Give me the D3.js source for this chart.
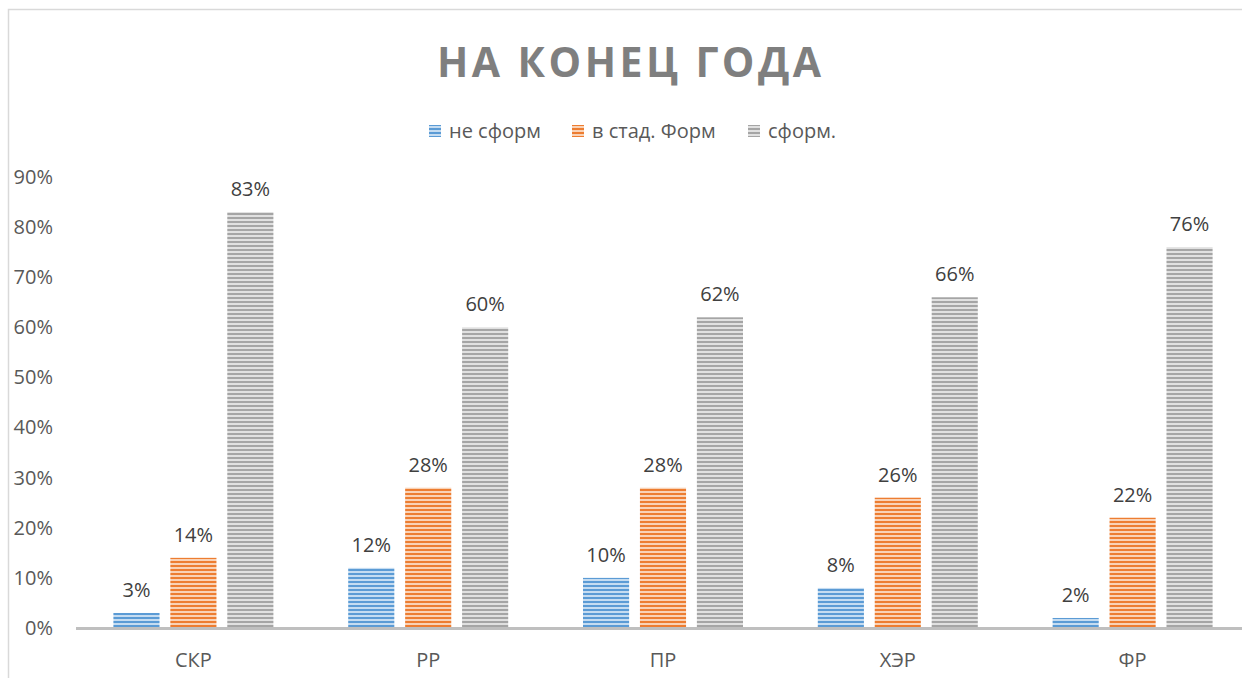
<!DOCTYPE html>
<html>
<head>
<meta charset="utf-8">
<script src="https://cdn.jsdelivr.net/npm/d3@7"></script>
<style>
  body { margin: 0; background: #fff; }
  svg { display: block; font-family: "Open Sans", "Noto Sans", sans-serif; }
</style>
</head>
<body>
<div class="chart"></div>
<script>
// Chart data
const categories = ["СКР", "РР", "ПР", "ХЭР", "ФР"];
const seriesNames = ["не сформ", "в стад. Форм", "сформ."];
const notFormed = [3, 12, 10, 8, 2];
const inProgress = [14, 28, 28, 26, 22];
const formed = [83, 60, 62, 66, 76];
const yTicks = [0, 10, 20, 30, 40, 50, 60, 70, 80, 90];

// Colours: main stripe + light stripe for each series
const colors = [["#5b9bd5", "#c5dcf1"], ["#ed7d31", "#f9d2b6"], ["#a5a5a5", "#e0e0e0"]];

const width = 1242;
const height = 678;
const margin = {top: 177, right: -8, bottom: 50, left: 76};
const innerWidth = width - margin.left - margin.right;
const innerHeight = height - margin.top - margin.bottom;

const series = [notFormed, inProgress, formed];
const data = categories.map((c, i) => ({
  cat: c,
  values: series.map((s, k) => ({key: k, value: s[i]}))
}));

const svg = d3.select(".chart")
  .append("svg")
    .attr("width", width)
    .attr("height", height);

// Striped fill patterns, like Excel's horizontal-line pattern
const defs = svg.append("defs");
colors.forEach((c, k) => {
  const p = defs.append("pattern")
    .attr("id", "stripe" + k)
    .attr("patternUnits", "userSpaceOnUse")
    .attr("width", 8)
    .attr("height", 4);
  p.append("rect").attr("width", 8).attr("height", 4).attr("fill", c[1]);
  p.append("rect").attr("width", 8).attr("height", 2).attr("fill", c[0]);
});

// Outer chart border (cropped at right and bottom)
svg.append("path")
  .attr("d", `M8.5,${height} V9.5 H${width}`)
  .attr("fill", "none")
  .attr("stroke", "#d9d9d9")
  .attr("stroke-width", 1.5);

// Title
svg.append("text")
  .attr("x", 629)
  .attr("y", 77)
  .attr("text-anchor", "middle")
  .attr("fill", "#7f7f7f")
  .attr("font-size", 41)
  .attr("font-weight", "bold")
  .attr("textLength", 384)
  .attr("lengthAdjust", "spacing")
  .text("НА КОНЕЦ ГОДА");

// Legend
const legendX = [429, 572, 748];
const legend = svg.append("g");
seriesNames.forEach((name, k) => {
  legend.append("rect")
    .attr("x", legendX[k])
    .attr("y", 125)
    .attr("width", 12)
    .attr("height", 12)
    .attr("fill", `url(#stripe${k})`);
  legend.append("text")
    .attr("x", legendX[k] + 20)
    .attr("y", 138)
    .attr("fill", "#595959")
    .attr("font-size", 20)
    .text(name);
});

const g = svg.append("g")
  .attr("transform", `translate(${margin.left}, ${margin.top})`);

// Scales
const x = d3.scaleBand()
  .domain(categories)
  .range([0, innerWidth]);

const x1 = d3.scaleBand()
  .domain([0, 1, 2])
  .range([x.bandwidth() / 2 - 80, x.bandwidth() / 2 + 80])
  .paddingInner(0.19);

const y = d3.scaleLinear()
  .domain([0, 90])
  .range([innerHeight, 0]);

// Y-axis tick labels (no axis line)
g.append("g")
  .attr("font-size", 20)
  .attr("font-family", "'Open Sans', sans-serif")
  .call(d3.axisLeft(y).tickValues(yTicks).tickFormat(d => d + "%").tickSize(0).tickPadding(23))
  .call(a => a.select(".domain").remove())
  .call(a => a.attr("font-size", 20).attr("font-family", "'Open Sans', sans-serif"))
  .selectAll("text")
    .attr("fill", "#595959");

// Bars
const groups = g.selectAll(".grp")
  .data(data)
  .enter()
  .append("g")
    .attr("class", "grp")
    .attr("transform", d => `translate(${x(d.cat)}, 0)`);

groups.selectAll("rect")
  .data(d => d.values)
  .enter()
  .append("rect")
    .attr("x", d => x1(d.key))
    .attr("y", d => y(d.value))
    .attr("width", x1.bandwidth())
    .attr("height", d => innerHeight - y(d.value))
    .attr("fill", d => `url(#stripe${d.key})`);

// Data labels
groups.selectAll(".lbl")
  .data(d => d.values)
  .enter()
  .append("text")
    .attr("class", "lbl")
    .attr("x", d => x1(d.key) + x1.bandwidth() / 2)
    .attr("y", d => y(d.value) - 16)
    .attr("text-anchor", "middle")
    .attr("fill", "#404040")
    .attr("font-size", 20)
    .text(d => d.value + "%");

// X-axis baseline and category labels
g.append("line")
  .attr("x1", 0)
  .attr("x2", innerWidth)
  .attr("y1", innerHeight + 0.5)
  .attr("y2", innerHeight + 0.5)
  .attr("stroke", "#bfbfbf")
  .attr("stroke-width", 3);

g.append("g")
  .attr("transform", `translate(0, ${innerHeight})`)
  .call(d3.axisBottom(x).tickSize(0).tickPadding(25))
  .call(a => a.select(".domain").remove())
  .call(a => a.attr("font-size", 20).attr("font-family", "'Open Sans', sans-serif"))
  .selectAll("text")
    .attr("fill", "#595959");
</script>
</body>
</html>
